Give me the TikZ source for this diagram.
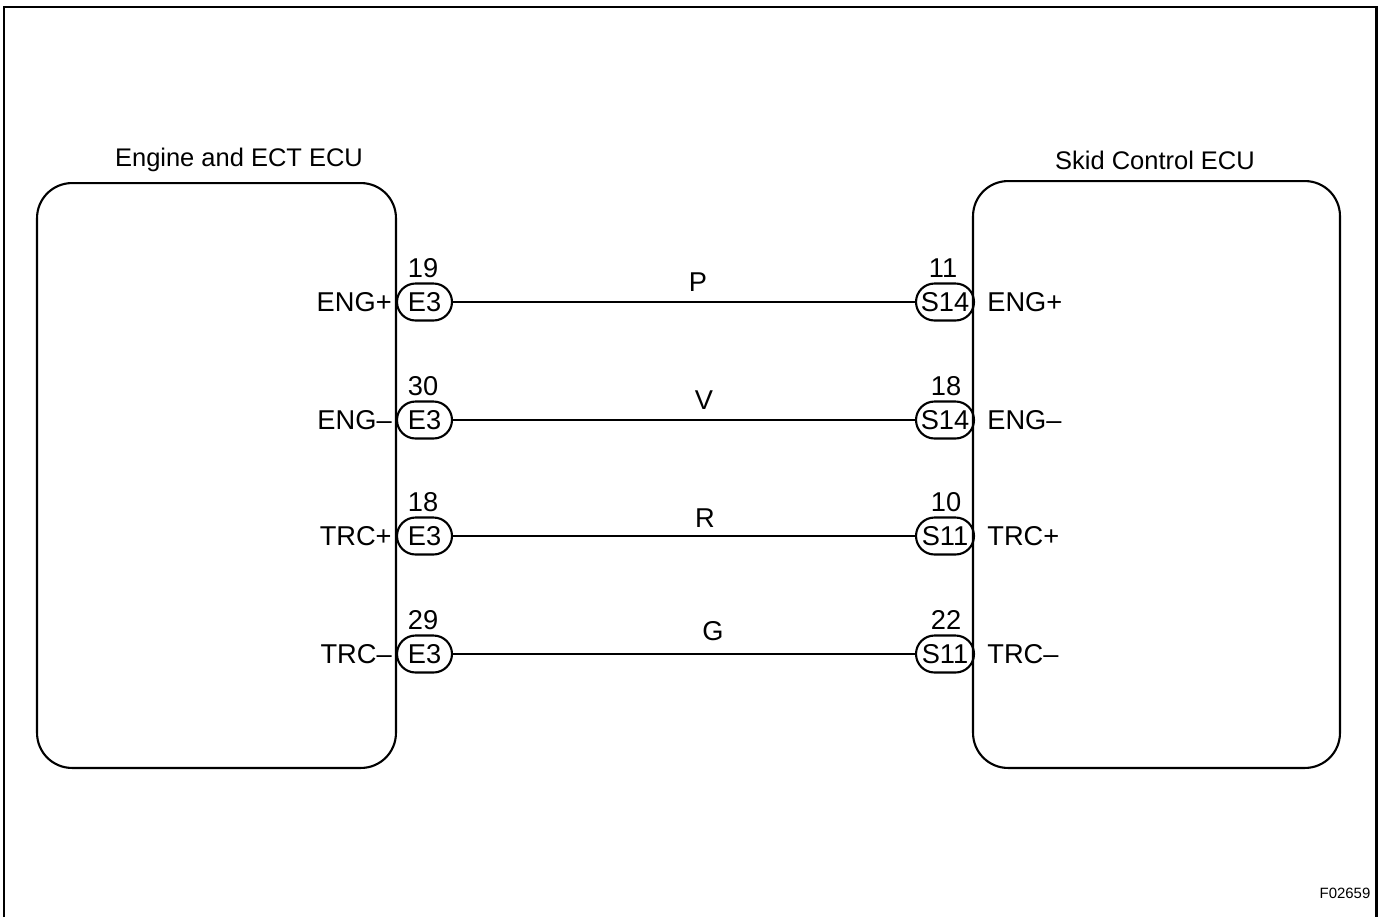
\documentclass[tikz,border=0pt]{standalone}
\usepackage{fontspec}
\setmainfont{Liberation Sans}
\usepackage{tikz}
\usetikzlibrary{positioning}
\tikzstyle{ecu}   = [draw,line width=1.2pt,rounded corners=0.7cm,inner sep=0pt]
\tikzstyle{plug}  = [draw,line width=1.2pt,rounded corners=0.37cm,minimum height=0.74cm,inner sep=0pt,font=\fontsize{15.5}{17}\selectfont]
\tikzstyle{wire}  = [line width=0.6pt]
\tikzstyle{lbl}   = [inner sep=0pt,font=\fontsize{15.5}{17}\selectfont]
\tikzstyle{title} = [inner sep=0pt,font=\fontsize{14.5}{17}\selectfont]

\begin{document}
\begin{tikzpicture}[x=0.02cm,y=-0.02cm]
          \useasboundingbox (0,0) rectangle (1379,917);
          \draw[line width=1.7pt] (4,917) -- (4,7) -- (1376,7) -- (1376,917);
          % the two ECUs
          \node[ecu,minimum width=7.18cm,minimum height=11.7cm](engecu)at(216.5, 475.5){};
          \node[ecu,minimum width=7.34cm,minimum height=11.74cm](skidecu)at(1156.5, 474.5){};
          \node[title](engname)at(239, 160){Engine and ECT ECU};
          \node[title](skidname)at(1155, 160){Skid Control ECU};
          % connectors, engine side
          \node[plug,minimum width=1.1cm](e1)at(424.5, 302){E3};
          \node[plug,minimum width=1.1cm](e2)at(424.5, 420){E3};
          \node[plug,minimum width=1.1cm](e3)at(424.5, 536){E3};
          \node[plug,minimum width=1.1cm](e4)at(424.5, 654){E3};
          \node[lbl](en1)at(423, 268){19};
          \node[lbl](en2)at(423, 386){30};
          \node[lbl](en3)at(423, 502){18};
          \node[lbl](en4)at(423, 620){29};
          \node[lbl,anchor=east](ep1)at(392, 302){ENG+};
          \node[lbl,anchor=east](ep2)at(392, 420){ENG–};
          \node[lbl,anchor=east](ep3)at(392, 536){TRC+};
          \node[lbl,anchor=east](ep4)at(392, 654){TRC–};
          % connectors, skid control side
          \node[plug,minimum width=1.16cm](s1)at(945, 302){S14};
          \node[plug,minimum width=1.16cm](s2)at(945, 420){S14};
          \node[plug,minimum width=1.16cm](s3)at(945, 536){S11};
          \node[plug,minimum width=1.16cm](s4)at(945, 654){S11};
          \node[lbl](sn1)at(943, 268){11};
          \node[lbl](sn2)at(946, 386){18};
          \node[lbl](sn3)at(946, 502){10};
          \node[lbl](sn4)at(946, 620){22};
          \node[lbl,anchor=west](sp1)at(987, 302){ENG+};
          \node[lbl,anchor=west](sp2)at(987, 420){ENG–};
          \node[lbl,anchor=west](sp3)at(987, 536){TRC+};
          \node[lbl,anchor=west](sp4)at(987, 654){TRC–};
          % wires
          \draw[wire](e1)--(s1);
          \draw[wire](e2)--(s2);
          \draw[wire](e3)--(s3);
          \draw[wire](e4)--(s4);
          \node[lbl](w1)at(698, 282){P};
          \node[lbl](w2)at(704, 400){V};
          \node[lbl](w3)at(705, 518){R};
          \node[lbl](w4)at(713, 631){G};
          \node[inner sep=0pt,font=\fontsize{8.5}{10}\selectfont](code)at(1345, 893){F02659};
      \end{tikzpicture}
\end{document}
